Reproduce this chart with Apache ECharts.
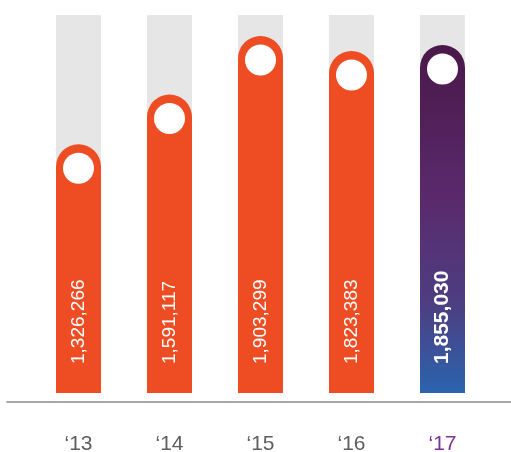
<!DOCTYPE html>
<html>
<head>
<meta charset="utf-8">
<script src="https://cdn.jsdelivr.net/npm/echarts@6/dist/echarts.min.js"></script>
<style>
  html, body { margin: 0; padding: 0; background: #fff; }
  #chart { width: 511px; height: 452px; }
</style>
</head>
<body>
<div id="chart"></div>
<script>
// years and totals
var years = ["\u201813", "\u201814", "\u201815", "\u201816", "\u201817"];
var totals = [1326266, 1591117, 1903299, 1823383, 1855030];
var yMax = 2015000;

var orange = "#ee4c23";

var chart = echarts.init(document.getElementById("chart"));

var barData = totals.map(function (v, i) {
  if (i === totals.length - 1) {
    // latest year: purple -> blue gradient, bold label
    return {
      value: v,
      itemStyle: {
        color: new echarts.graphic.LinearGradient(0, 0, 0, 1, [
          { offset: 0, color: "#4a1849" },
          { offset: 0.45, color: "#5a2a6d" },
          { offset: 0.75, color: "#4c3f82" },
          { offset: 1, color: "#2b64ad" }
        ])
      },
      label: { fontWeight: "bold", fontSize: 21 }
    };
  }
  return v;
});

chart.setOption({
  animation: false,
  grid: [
    { left: 33, right: 23, top: 15, bottom: 59, outerBoundsMode: "none" },
    // only used for the long baseline
    { left: 7, right: 0, top: 15, bottom: 50, outerBoundsMode: "none" }
  ],
  xAxis: [
    {
      type: "category",
      gridIndex: 0,
      data: years,
      axisLine: { show: false },
      axisTick: { show: false },
      axisLabel: {
        margin: 41,
        fontSize: 21,
        fontFamily: "Liberation Sans, Arial, sans-serif",
        color: function (val, idx) {
          return idx === years.length - 1 ? "#7b3495" : "#5e5e5e";
        }
      }
    },
    {
      type: "value",
      gridIndex: 1,
      min: 0,
      max: 1,
      axisLine: { show: true, lineStyle: { color: "#8a8a8a", width: 1.5 } },
      axisTick: { show: false },
      axisLabel: { show: false },
      splitLine: { show: false }
    }
  ],
  yAxis: [
    { type: "value", gridIndex: 0, min: 0, max: yMax, show: false },
    { type: "value", gridIndex: 1, min: 0, max: 1, show: false }
  ],
  series: [
    {
      type: "bar",
      data: barData,
      barWidth: 45,
      showBackground: true,
      backgroundStyle: { color: "#e6e6e6" },
      itemStyle: { color: orange, borderRadius: [22.5, 22.5, 0, 0] },
      label: {
        show: true,
        position: "insideBottom",
        distance: 29,
        rotate: 90,
        align: "left",
        verticalAlign: "middle",
        color: "#fff",
        fontSize: 19,
        fontFamily: "Liberation Sans, Arial, sans-serif",
        formatter: function (p) {
          return p.value.toLocaleString("en-US");
        }
      }
    },
    {
      // white dot near the top of each bar
      type: "scatter",
      data: totals,
      symbol: "circle",
      symbolSize: 31,
      symbolOffset: [0, 24],
      itemStyle: { color: "#fff", opacity: 1 },
      z: 5,
      silent: true
    }
  ]
});
</script>
</body>
</html>
